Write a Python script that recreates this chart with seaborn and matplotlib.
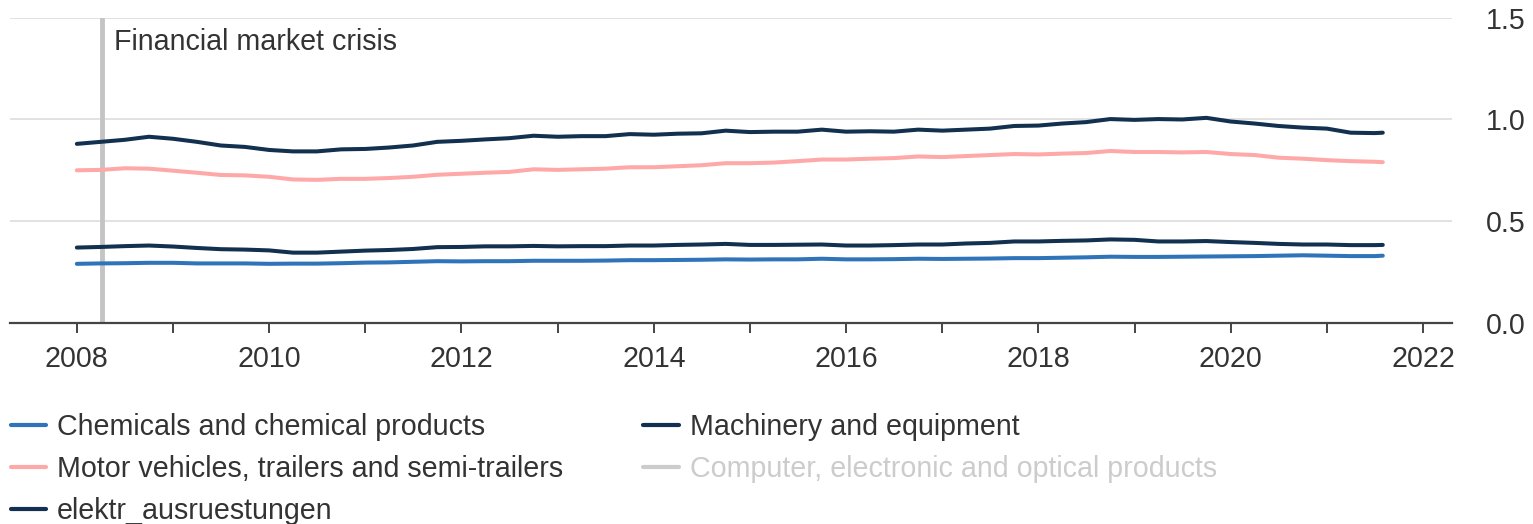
import numpy as np
import pandas as pd
import matplotlib
matplotlib.use("Agg")
import matplotlib.pyplot as plt
import matplotlib.dates as mdates
from matplotlib.lines import Line2D
import seaborn as sns

# quarterly readings 2008Q1 .. 2021Q3, plus the last month (Aug 2021)
dates = list(pd.date_range("2008-01-01", "2021-07-01", freq="QS")) + [pd.Timestamp("2021-08-01")]

chemicals = [0.290, 0.292, 0.293, 0.295, 0.295, 0.292, 0.292, 0.292, 0.290, 0.291,
             0.291, 0.293, 0.296, 0.297, 0.300, 0.303, 0.302, 0.303, 0.303, 0.305,
             0.305, 0.305, 0.306, 0.308, 0.308, 0.309, 0.310, 0.312, 0.311, 0.312,
             0.312, 0.315, 0.312, 0.312, 0.313, 0.315, 0.314, 0.315, 0.316, 0.318,
             0.318, 0.320, 0.322, 0.325, 0.324, 0.324, 0.325, 0.326, 0.327, 0.328,
             0.330, 0.332, 0.330, 0.328, 0.328, 0.330]
motor = [0.750, 0.752, 0.760, 0.758, 0.748, 0.738, 0.727, 0.725, 0.718, 0.705,
         0.703, 0.708, 0.708, 0.712, 0.718, 0.728, 0.733, 0.738, 0.742, 0.755,
         0.752, 0.755, 0.758, 0.765, 0.765, 0.770, 0.775, 0.785, 0.785, 0.788,
         0.795, 0.803, 0.803, 0.807, 0.810, 0.818, 0.815, 0.820, 0.825, 0.830,
         0.828, 0.832, 0.835, 0.845, 0.840, 0.840, 0.838, 0.840, 0.830, 0.825,
         0.812, 0.807, 0.800, 0.795, 0.792, 0.790]
elektr = [0.370, 0.373, 0.377, 0.380, 0.375, 0.368, 0.362, 0.360, 0.356, 0.345,
          0.345, 0.350, 0.355, 0.358, 0.363, 0.372, 0.373, 0.376, 0.376, 0.378,
          0.376, 0.377, 0.377, 0.380, 0.380, 0.383, 0.385, 0.388, 0.383, 0.383,
          0.384, 0.385, 0.380, 0.380, 0.382, 0.385, 0.385, 0.390, 0.393, 0.400,
          0.400, 0.403, 0.405, 0.410, 0.408, 0.400, 0.400, 0.402, 0.397, 0.393,
          0.388, 0.385, 0.385, 0.382, 0.382, 0.383]
machinery = [0.880, 0.890, 0.900, 0.915, 0.905, 0.890, 0.872, 0.865, 0.850, 0.843,
             0.843, 0.853, 0.855, 0.862, 0.872, 0.890, 0.895, 0.902, 0.908, 0.920,
             0.915, 0.918, 0.918, 0.928, 0.925, 0.930, 0.932, 0.945, 0.938, 0.940,
             0.940, 0.950, 0.940, 0.942, 0.940, 0.950, 0.945, 0.950, 0.955, 0.968,
             0.970, 0.980, 0.987, 1.002, 0.998, 1.002, 1.000, 1.008, 0.990, 0.980,
             0.968, 0.960, 0.955, 0.935, 0.933, 0.935]

names = ["Chemicals and chemical products", "Motor vehicles, trailers and semi-trailers",
         "elektr_ausruestungen", "Machinery and equipment"]
colors = ["#2f74b9", "#ffa8a8", "#12304f", "#12304f"]
hidden_name = "Computer, electronic and optical products"

df = pd.concat([
    pd.DataFrame({"date": dates, "value": vals, "series": n})
    for n, vals in zip(names, [chemicals, motor, elektr, machinery])
])

sns.set_style("white")
plt.rcParams["font.family"] = ["Liberation Sans", "DejaVu Sans"]
txt = "#333333"
fs = 20.6

fig = plt.figure(figsize=(15.33, 5.24), dpi=100)
ax = fig.add_axes([0.0065, 0.384, 0.9405, 0.582])

ax.axvline(pd.Timestamp("2008-04-05"), color="#c4c4c4", lw=3.5, zorder=1)
ax.text(pd.Timestamp("2008-05-20"), 1.343, "Financial market crisis", fontsize=fs,
        color=txt, va="baseline", ha="left")

sns.lineplot(data=df, x="date", y="value", hue="series", hue_order=names,
             palette=colors, linewidth=2.9, legend=False, ax=ax, zorder=3)

ax.set_xlim(pd.Timestamp("2007-04-22"), pd.Timestamp("2022-04-20"))
ax.set_ylim(0, 1.5)
ax.set_yticks([0, 0.5, 1.0, 1.5])
ax.yaxis.set_major_formatter(plt.FuncFormatter(lambda v, p: f"{v:.1f}"))
ax.yaxis.tick_right()
ax.grid(axis="y", color="#dddddd", lw=1.2)
ax.set_axisbelow(True)

ax.xaxis.set_major_locator(mdates.YearLocator(1))
ax.xaxis.set_major_formatter(plt.FuncFormatter(
    lambda v, p: str(mdates.num2date(v).year) if mdates.num2date(v).year % 2 == 0 else ""))

for s in ["top", "right", "left"]:
    ax.spines[s].set_visible(False)
ax.spines["bottom"].set_color("#444444")
ax.spines["bottom"].set_linewidth(1.6)
ax.tick_params(axis="x", length=7.5, width=1.4, color="#444444", labelsize=fs,
               labelcolor=txt, pad=8.5, bottom=True)
ax.tick_params(axis="y", length=0, labelsize=fs, labelcolor=txt, pad=24.5)
ax.set_xlabel("")
ax.set_ylabel("")

handles = [Line2D([], [], color=c, lw=3.0) for c in colors]
handles.append(Line2D([], [], color="#cccccc", lw=3.0))
labels = names + [hidden_name]
leg = fig.legend(handles, labels, loc="upper left", bbox_to_anchor=(0.007, 0.211),
                 ncol=2, frameon=False, fontsize=fs, handlelength=1.25,
                 handletextpad=0.37, columnspacing=2.8, labelspacing=0.49,
                 borderpad=0, borderaxespad=0)
for t in leg.get_texts():
    t.set_color(txt)
leg.get_texts()[-1].set_color("#cccccc")

fig.savefig("out.png", dpi=100)
